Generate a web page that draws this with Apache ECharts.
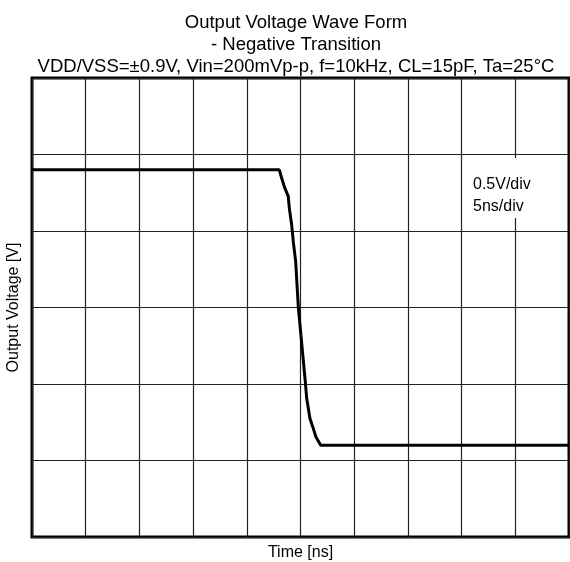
<!DOCTYPE html>
<html>
<head>
<meta charset="utf-8">
<script src="https://cdn.jsdelivr.net/npm/echarts@6/dist/echarts.min.js"></script>
<style>html,body{margin:0;padding:0;background:#fff;}#c{width:570px;height:562px;}</style>
</head>
<body>
<div id="c"></div>
<script>
const titleLines = ['Output Voltage Wave Form', '- Negative Transition', 'VDD/VSS=\u00b10.9V, Vin=200mVp-p, f=10kHz, CL=15pF, Ta=25\u00b0C'];
const xName = 'Time [ns]';
const yName = 'Output Voltage [V]';
const noteLines = ['0.5V/div', '5ns/div'];
const timeNs = [0, 23.03, 23.16, 23.49, 23.86, 23.96, 24.18, 24.33, 24.55, 24.80, 25.42, 25.58, 25.88, 26.19, 26.43, 26.88, 50];
const voltV  = [0.9, 0.9, 0.866, 0.79, 0.726, 0.648, 0.539, 0.43, 0.30, 0.0, -0.465, -0.595, -0.726, -0.79, -0.845, -0.9, -0.9];
const xMin = 0, xMax = 50, xStep = 5;
const yMin = -1.5, yMax = 1.5, yStep = 0.5;

const font = 'Liberation Sans, Arial, sans-serif';
const chart = echarts.init(document.getElementById('c'), null, {renderer: 'canvas'});
chart.setOption({
  animation: false,
  backgroundColor: '#fff',
  title: {
    text: titleLines.join('\n'),
    left: 291, top: 7, textAlign: 'center',
    textStyle: {fontFamily: font, fontSize: 18.5, fontWeight: 'normal', color: '#000', lineHeight: 22}
  },
  grid: {left: 32, right: 1, top: 78, bottom: 25, show: true, borderColor: '#000', borderWidth: 3,
         backgroundColor: 'transparent', outerBoundsMode: 'none', containLabel: false},
  xAxis: {
    type: 'value', min: xMin, max: xMax, interval: xStep,
    name: xName, nameLocation: 'middle', nameGap: 8,
    nameTextStyle: {fontFamily: font, fontSize: 16, color: '#000'},
    axisLine: {show: false}, axisTick: {show: false}, axisLabel: {show: false},
    splitLine: {show: true, lineStyle: {color: '#222', width: 1.2}}
  },
  yAxis: {
    type: 'value', min: yMin, max: yMax, interval: yStep,
    name: yName, nameLocation: 'middle', nameGap: 10,
    nameTextStyle: {fontFamily: font, fontSize: 16, color: '#000'},
    axisLine: {show: false}, axisTick: {show: false}, axisLabel: {show: false},
    splitLine: {show: true, lineStyle: {color: '#222', width: 1.2}}
  },
  graphic: [{
    type: 'text', left: 469, top: 158, z: 100,
    style: {
      text: noteLines.join('\n'), fontFamily: font, fontSize: 16, fill: '#000', lineHeight: 22,
      backgroundColor: '#fff', padding: [16, 4, 0, 4]
    }
  }],
  series: [{
    type: 'line', data: timeNs.map((t, i) => [t, voltV[i]]),
    showSymbol: false, symbol: 'none', smooth: false,
    lineStyle: {color: '#000', width: 3}, z: 5
  }]
});
</script>
</body>
</html>
